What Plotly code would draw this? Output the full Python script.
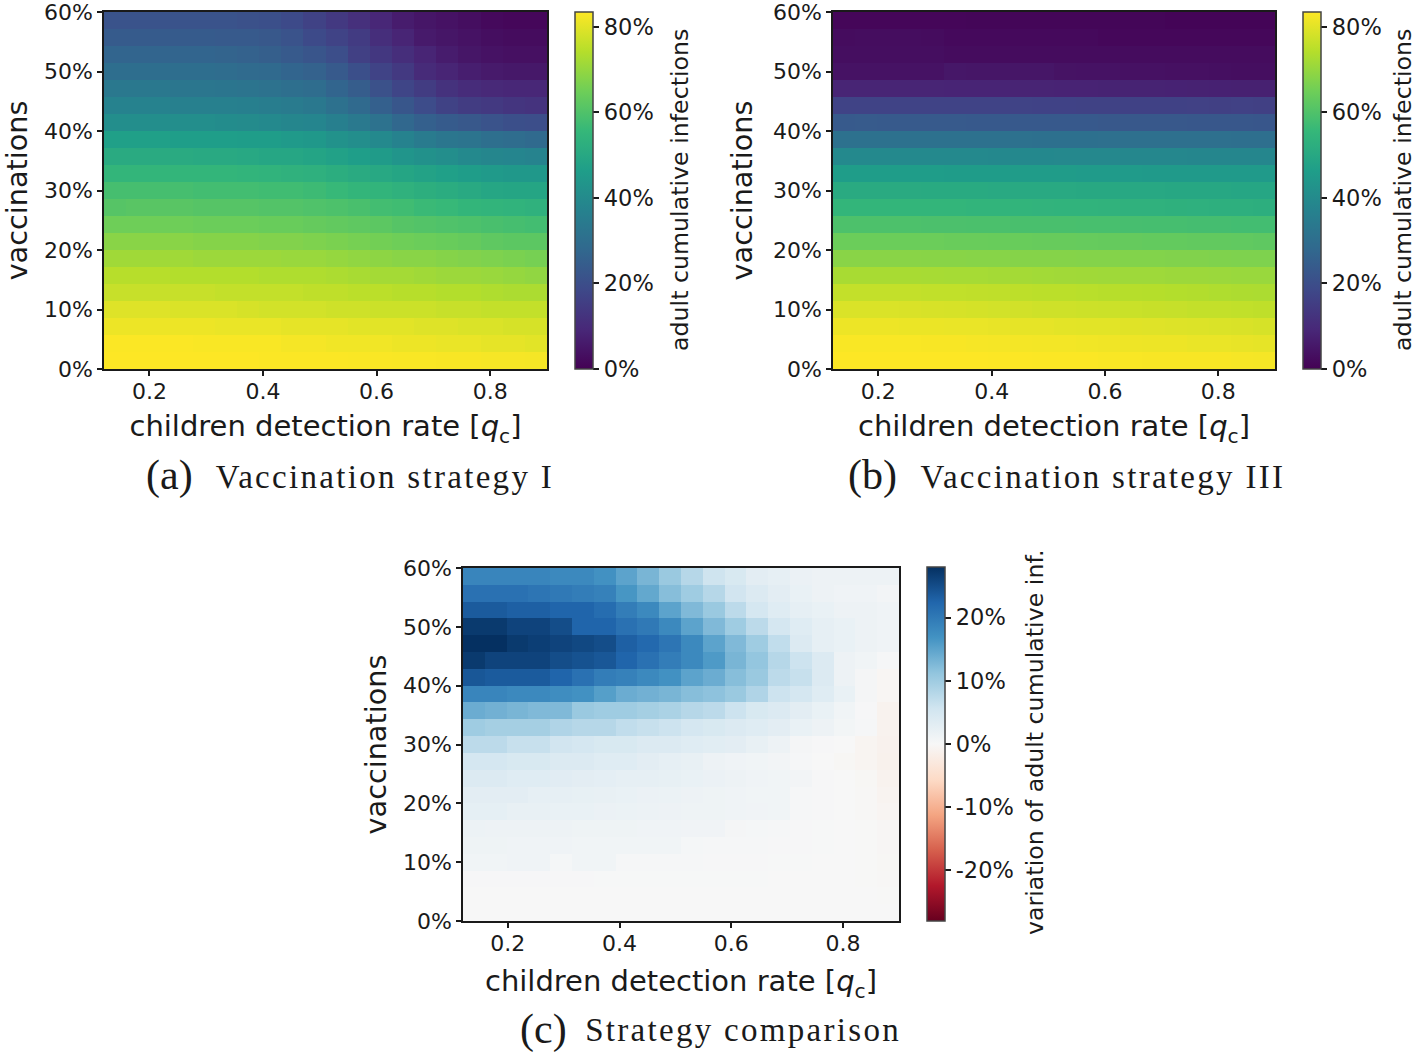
import plotly.graph_objects as go
import plotly.colors as pc

W, H = 1416, 1053

# centres of the cells, detection rate and share of vaccinated people
detection_rate = [0.1395, 0.1785, 0.2175, 0.2565, 0.2955, 0.3345, 0.3735, 0.4125, 0.4515, 0.4905,
                  0.5295, 0.5685, 0.6075, 0.6465, 0.6855, 0.7245, 0.7635, 0.8025, 0.8415, 0.8805]
vaccinations = [1.43, 4.29, 7.14, 10.0, 12.86, 15.71, 18.57, 21.43, 24.29, 27.14, 30.0,
                32.86, 35.71, 38.57, 41.43, 44.29, 47.14, 50.0, 52.86, 55.71, 58.57]

y_ticks = [0, 10, 20, 30, 40, 50, 60]
y_labels = ["0%", "10%", "20%", "30%", "40%", "50%", "60%"]
x_ticks = [0.2, 0.4, 0.6, 0.8]
x_labels = ["0.2", "0.4", "0.6", "0.8"]
cb_ticks = [0, 20, 40, 60, 80]
cb_labels = ["0%", "20%", "40%", "60%", "80%"]
diff_ticks = [-20, -10, 0, 10, 20]
diff_labels = ["-20%", "-10%", "0%", "10%", "20%"]

# rows go from the lowest vaccination share to the highest
strategy_1 = [
    [83.5, 83.5, 83.5, 83.5, 83.5, 83.5, 83.5, 83.3, 83.3, 83.2, 83.2, 83.1, 83.1, 83, 83, 82.8, 82.8, 82.6, 82.6, 82.5],
    [83.2, 83.2, 83.2, 83.2, 83, 83, 83, 83, 82.5, 82.5, 82, 82, 82, 81.5, 81.5, 81, 81, 80.5, 80.5, 80],
    [81.5, 81.5, 81.5, 81.5, 81.5, 81, 81, 81, 80.5, 80.5, 80.5, 80, 80, 80, 79.5, 79.5, 79, 79, 78.5, 78.5],
    [79.5, 79.5, 79.5, 79, 79, 79, 78.5, 78, 78, 78, 77.5, 77.5, 77, 77, 77, 76.5, 76.5, 76, 76, 76],
    [76.5, 76.5, 76.5, 76.5, 76.5, 76, 76, 76, 76, 75.5, 75.5, 75, 75, 74.5, 74.5, 74, 74, 73.5, 73, 73],
    [74.5, 74.5, 74.5, 74, 74, 74, 74, 73.5, 73.5, 73.5, 73, 72.5, 72, 72, 71.5, 71, 71, 70.5, 70, 69.5],
    [71.5, 71.5, 71.5, 71.5, 71, 71, 71, 71, 70.5, 70.5, 70, 69.5, 69, 68.5, 68.5, 68, 67.5, 67, 66.5, 66],
    [68.5, 68.5, 68.5, 68.5, 68, 68, 68, 67.5, 67.5, 67, 66.5, 66, 65.5, 65, 64.5, 64, 63.5, 62.5, 62, 62],
    [65, 65, 65, 65, 64.5, 64.5, 64.5, 64, 64, 63.5, 63, 62.5, 62, 61, 60.5, 60, 59.5, 59, 58.5, 58],
    [61, 61.5, 61.5, 61.5, 61, 61, 61, 60.5, 60.5, 60, 59.5, 59, 58, 57.5, 56.5, 56, 55, 54.5, 54, 53.5],
    [58.5, 58.5, 58.5, 58.5, 58, 58, 58, 57.5, 57.5, 57, 56, 55, 54.5, 53.5, 52.5, 51.5, 50.5, 49.5, 49, 49],
    [55, 55, 55, 55, 55, 55, 54.5, 54, 53.5, 53, 52, 51, 50, 49, 48, 47, 46, 45, 44.5, 44.5],
    [51, 51, 51, 51, 50.5, 50.5, 50, 49.5, 49.5, 48.5, 47.5, 46.5, 45.5, 43.5, 42, 41, 39.5, 38.5, 38, 37.5],
    [47, 47, 47, 46.5, 46.5, 46.5, 46, 46, 45, 44.5, 42.5, 41, 39.5, 37, 34.5, 33, 32, 30.5, 29.5, 28.5],
    [41, 41, 41, 41, 41, 40.5, 40, 39.5, 38.5, 38, 36, 34, 31.5, 28, 25.5, 24, 23, 21.5, 20.5, 20],
    [37, 37, 37, 36.5, 36.5, 36.5, 36, 35.5, 34.5, 33.5, 31, 28.5, 25.5, 22.5, 19.5, 16.5, 15, 14, 13, 12.5],
    [33.5, 33.5, 33.5, 33, 33, 32.5, 32, 31.5, 30.5, 29.5, 27, 24.5, 21, 17.5, 15, 12, 10.5, 9.5, 9, 9],
    [30, 30, 30, 30, 30, 29.5, 29, 28.5, 27, 26, 23.5, 20.5, 17, 14, 10, 8.5, 7, 6, 5.5, 5.5],
    [27, 27, 27, 27, 27, 26.5, 26, 25, 23.5, 22, 20, 16, 13.5, 11, 8.5, 6.5, 5, 4, 3.5, 3.5],
    [24, 24, 24, 24, 24, 23.5, 23.5, 23, 21.5, 19, 17, 14.5, 11, 8.5, 6, 5, 4, 3, 2.5, 2.5],
    [21.5, 21.5, 21.5, 21.5, 21.5, 21.5, 21, 20.5, 19, 16.5, 14, 11.5, 9, 6.5, 5, 4, 3, 2, 1.5, 1.5],
]

strategy_3 = [
    [83.5, 83.5, 83.5, 83.5, 83.5, 83.5, 83.5, 83.4, 83.4, 83.3, 83.2, 83.2, 83, 83, 82.9, 82.9, 82.8, 82.8, 82.6, 82.5],
    [83, 83, 83, 83, 82.8, 82.8, 82.6, 82.5, 82.4, 82.2, 82.2, 82, 81.8, 81.6, 81.5, 81.4, 81, 81, 80.8, 80.5],
    [81.5, 81.5, 81.5, 81.2, 81.2, 81, 81, 80.8, 80.6, 80.5, 80.2, 80, 80, 79.8, 79.6, 79.4, 79.2, 79, 78.8, 78.5],
    [79, 79, 79, 78.8, 78.6, 78.5, 78.2, 78, 77.8, 77.5, 77.5, 77.2, 77, 76.8, 76.6, 76.4, 76, 76, 75.8, 75.5],
    [76, 76, 76, 76, 75.8, 75.8, 75.6, 75.5, 75.2, 75, 75, 74.8, 74.5, 74.4, 74.2, 74, 73.8, 73.5, 73.2, 73],
    [72.5, 72.5, 72.5, 72.5, 72.4, 72.2, 72.2, 72, 72, 71.8, 71.6, 71.5, 71.4, 71.2, 71.2, 71, 71, 70.8, 70.6, 70.5],
    [68.5, 68.5, 68.5, 68.5, 68.4, 68.4, 68.2, 68.2, 68, 68, 68, 67.8, 67.8, 67.6, 67.6, 67.4, 67.4, 67.2, 67.1, 67],
    [64.5, 64.5, 64.5, 64.4, 64.4, 64.2, 64.2, 64, 64, 63.8, 63.8, 63.6, 63.5, 63.4, 63.2, 63.2, 63, 63, 62.8, 62.5],
    [59.5, 59.5, 59.5, 59.5, 59.4, 59.4, 59.2, 59.2, 59, 59, 59, 58.8, 58.8, 58.6, 58.5, 58.4, 58.2, 58.2, 58, 58],
    [55, 55, 55, 55, 54.8, 54.8, 54.6, 54.5, 54.4, 54.2, 54, 54, 53.8, 53.6, 53.5, 53.2, 53, 52.8, 52.6, 52.5],
    [51, 51, 51, 51, 50.8, 50.8, 50.8, 50.6, 50.6, 50.5, 50.4, 50.2, 50.2, 50, 50, 49.8, 49.8, 49.6, 49.5, 49.5],
    [46, 46, 46, 46, 46, 45.8, 45.8, 45.8, 45.6, 45.6, 45.6, 45.4, 45.4, 45.4, 45.2, 45.2, 45.2, 45, 45, 45],
    [39.5, 39.5, 39.5, 39.5, 39.4, 39.4, 39.4, 39.2, 39.2, 39.2, 39, 39, 39, 38.8, 38.8, 38.8, 38.6, 38.6, 38.5, 38.5],
    [31, 31, 31, 31, 31, 31, 30.9, 30.9, 30.9, 30.8, 30.8, 30.8, 30.7, 30.7, 30.7, 30.6, 30.6, 30.6, 30.5, 30.5],
    [23.5, 23.8, 23.6, 23.5, 23.5, 23.6, 23.4, 23.4, 23.4, 23.3, 23.2, 23.2, 23, 23, 23, 22.9, 22.8, 22.7, 22.6, 22.5],
    [17, 17, 17, 17, 17, 16.9, 16.9, 16.8, 16.8, 16.7, 16.7, 16.6, 16.6, 16.4, 16.4, 16.4, 16.2, 16, 16.2, 16],
    [8.5, 8.5, 8.5, 8.5, 8.5, 8.4, 8.4, 8.4, 8.3, 8.3, 8.2, 8.2, 8, 8, 8, 7.9, 7.8, 7.7, 7.6, 7.5],
    [4, 4, 4, 4, 4, 5.2, 5, 5, 5, 5, 4.2, 4, 4, 3.8, 3.8, 3.6, 3.5, 3.4, 3.2, 3],
    [3, 3, 3, 3, 3, 2.6, 2.6, 2.6, 2.6, 2.6, 2.6, 2.6, 2.6, 2.6, 2.6, 2.6, 2.6, 2.5, 2.5, 2.5],
    [2.6, 2.8, 2.8, 2.8, 2.6, 2, 2, 2, 2, 2, 2, 2, 1.5, 1.5, 1.5, 1.5, 1.5, 1.5, 1.5, 1.5],
    [1.2, 1.2, 1.2, 1.2, 1.2, 1.2, 1.1, 1.1, 1.1, 1.1, 1.1, 1.1, 1.1, 1.1, 1.1, 0.8, 0.8, 0.8, 0.8, 0.8],
]

comparison = [
    [0, 0, 0, 0, 0, 0, 0, 0, 0, 0, 0, 0, 0, 0, 0, 0, 0, 0, 0, 0],
    [0, 0, 0, 0, 0, 0, 0, 0, 0, 0, 0, 0, 0, 0, 0, 0, 0, 0, 0, -0.1],
    [0.2, 0.2, 0.2, 0.2, 0.2, 0.2, 0.1, 0.1, 0.1, 0.1, 0.1, 0.1, 0.1, 0.1, 0, 0, 0, 0, -0.1, -0.2],
    [1, 1, 1.2, 1.2, 0.4, 1, 1, 0.3, 0.3, 0.3, 0.3, 0.2, 0.2, 0.2, 0.1, 0.1, 0, 0, -0.1, -0.3],
    [1.3, 1.3, 1.2, 1.2, 1.2, 1, 1, 1, 1, 1, 0.4, 0.3, 0.3, 0.3, 0.2, 0.2, 0.1, 0, -0.1, -0.4],
    [1.6, 1.5, 1.5, 1.5, 1.5, 1.3, 1.3, 1.3, 1.2, 1.2, 1.1, 1.1, 0.5, 0.4, 0.3, 0.2, 0.1, 0, -0.1, -0.4],
    [2.6, 2.6, 2.2, 2.2, 2, 2, 1.8, 1.7, 1.6, 1.5, 1.4, 1.3, 1.2, 1.1, 1, 0.3, 0.2, 0, -0.2, -0.6],
    [3, 3, 3, 2.5, 2.5, 2.3, 2.2, 2, 1.8, 1.7, 1.5, 1.3, 1.2, 1, 1, 0.3, 0.2, 0, -0.2, -0.8],
    [4, 4, 3.5, 3.5, 3.3, 3, 2.8, 2.5, 2.5, 2.3, 2, 1.8, 1.5, 1.2, 1, 0.8, 0.2, 0, -0.3, -1],
    [5, 5, 4.5, 4.5, 4, 4, 3.5, 3.5, 3, 2.5, 2.2, 1.5, 1.2, 1, 0.8, 0.3, 0, -0.3, -0.7, -1.3],
    [7.5, 7.5, 6.5, 6.5, 5.5, 5, 4.5, 4.5, 4, 4, 3.5, 3.2, 3, 2.2, 1.5, 0.5, 0.2, 0, -0.7, -1.2],
    [10, 9.5, 9.5, 9.5, 8.5, 8, 8, 7, 6.5, 6, 5, 4.5, 4, 3.5, 3, 2, 1.5, 0.7, 0.3, -1],
    [14, 13.5, 13, 12.5, 12.5, 10.5, 10, 10, 9.5, 9, 8, 7.5, 6, 4.5, 4, 3, 2, 1, 0.2, -1],
    [18.5, 18.5, 18, 18, 17.5, 17, 15.5, 14, 13.5, 13, 12, 11.5, 10.5, 8.5, 6, 5, 3.5, 2, 0.5, -0.5],
    [24, 23.5, 23.5, 23.5, 22.5, 21, 19.5, 19, 18, 17, 15, 14, 12, 10.5, 7.5, 6.5, 4, 1.5, 0.5, -0.5],
    [27, 26, 26, 26, 25, 24.5, 24, 22.5, 21, 19.5, 18, 16, 13, 11, 8, 6, 4, 1.5, 1, 0.3],
    [28, 28, 27, 26.5, 26, 25.5, 25, 23, 22, 20.5, 18, 15, 12.5, 10, 7, 4, 2.5, 2, 1.5, 1.2],
    [27, 27, 26, 26, 25, 22.5, 22.5, 21, 20, 18, 15, 12.5, 10, 7.5, 5, 3.5, 2.5, 2, 1.5, 1.2],
    [23.5, 23.5, 23, 23, 22.5, 22.5, 21.5, 19.5, 18, 15, 12.5, 10.5, 7.5, 5, 3.5, 2.5, 2, 1.5, 1.5, 1.2],
    [21, 21, 21, 20.5, 20, 19.5, 19, 16.5, 14.5, 12, 10, 8, 5.5, 4, 3, 2, 1.5, 1.2, 1.2, 0.8],
    [18.5, 18.5, 18.5, 18.5, 18, 18, 17, 15, 13, 10.5, 8, 5.8, 4.5, 3, 2.5, 1.8, 1.5, 1.5, 1.5, 1.5],
]

INK = "#1a1a1a"


# pixel box of a panel -> paper fractions
def px_x(x):
    return x / W


def px_y(y):
    return 1 - y / H


def colorbar(x, top, bottom, ticks, labels):
    return dict(
        x=px_x(x), xanchor="left", xref="paper",
        y=px_y(bottom), yanchor="bottom", yref="paper",
        len=(bottom - top) / H, lenmode="fraction",
        thickness=18, thicknessmode="pixels", xpad=0, ypad=0,
        outlinecolor="#444444", outlinewidth=1.5,
        ticks="outside", ticklen=6, tickwidth=1.5, tickcolor=INK,
        tickvals=ticks, ticktext=labels,
        tickfont=dict(size=22.5, color=INK),
    )


fig = go.Figure()
fig.add_trace(go.Heatmap(x=detection_rate, y=vaccinations, z=strategy_1, zmin=0, zmax=83.5,
                         colorscale=pc.sequential.Viridis, xaxis="x", yaxis="y",
                         colorbar=colorbar(575, 12, 369, cb_ticks, cb_labels)))
fig.add_trace(go.Heatmap(x=detection_rate, y=vaccinations, z=strategy_3, zmin=0, zmax=83.5,
                         colorscale=pc.sequential.Viridis, xaxis="x2", yaxis="y2",
                         colorbar=colorbar(1303, 12, 369, cb_ticks, cb_labels)))
fig.add_trace(go.Heatmap(x=detection_rate, y=vaccinations, z=comparison, zmin=-28, zmax=28,
                         colorscale=pc.diverging.RdBu, xaxis="x3", yaxis="y3",
                         colorbar=colorbar(927, 567, 921, diff_ticks, diff_labels)))


def x_axis(left, right, anchor, standoff):
    return dict(
        domain=[px_x(left), px_x(right)], anchor=anchor, range=[0.12, 0.90],
        tickvals=x_ticks, ticktext=x_labels, ticks="outside", ticklen=5, tickwidth=1.5,
        ticklabelstandoff=-3, ticklabeloverflow="allow",
        tickcolor=INK, tickfont=dict(size=22, color=INK),
        showline=True, linecolor=INK, linewidth=1.5, mirror=True, showgrid=False, zeroline=False,
        title=dict(text="children detection rate [<i>q</i><sub>c</sub>]",
                   font=dict(size=29, color=INK), standoff=standoff),
    )


def y_axis(top, bottom, anchor, standoff):
    return dict(
        domain=[px_y(bottom), px_y(top)], anchor=anchor, range=[0, 60],
        tickvals=y_ticks, ticktext=y_labels, ticks="outside", ticklen=5, tickwidth=1.5,
        ticklabeloverflow="allow",
        tickcolor=INK, tickfont=dict(size=22, color=INK),
        showline=True, linecolor=INK, linewidth=1.5, mirror=True, showgrid=False, zeroline=False,
        title=dict(text="vaccinations", font=dict(size=28.7, color=INK), standoff=standoff),
    )


fig.update_layout(
    width=W, height=H, margin=dict(l=0, r=0, t=0, b=0, autoexpand=False),
    paper_bgcolor="white", plot_bgcolor="white",
    font=dict(family="DejaVu Sans", color=INK),
    xaxis=x_axis(104, 547, "y", 13), yaxis=y_axis(12, 369, "x", 8),
    xaxis2=x_axis(833, 1275, "y2", 13), yaxis2=y_axis(12, 369, "x2", 12),
    xaxis3=x_axis(463, 899, "y3", 16), yaxis3=y_axis(568, 921, "x3", 8),
)

# colorbar titles, set as annotations to sit where the picture has them
bar_titles = [
    (680, 190, "adult cumulative infections"),
    (1403, 190, "adult cumulative infections"),
    (1035, 742, "variation of adult cumulative inf."),
]
for x_title, y_title, text in bar_titles:
    fig.add_annotation(x=px_x(x_title), y=px_y(y_title), xref="paper", yref="paper", xanchor="center", yanchor="middle",
                       text=text, textangle=-90, showarrow=False, font=dict(size=23.7, color=INK))

# captions under the panels
captions = [
    (144, 476, "(a)", 384.5, "Vaccination strategy I"),
    (846, 476, "(b)", 1103, "Vaccination strategy III"),
    (518, 1029, "(c)", 743, "Strategy comparison"),
]
for x_tag, y_cap, tag, x_text, text in captions:
    fig.add_annotation(x=px_x(x_tag), y=px_y(y_cap), xref="paper", yref="paper", xanchor="left", yanchor="middle",
                       text=tag, showarrow=False, font=dict(family="Liberation Serif", size=42, color=INK))
    fig.add_annotation(x=px_x(x_text), y=px_y(y_cap + 1), xref="paper", yref="paper", xanchor="center", yanchor="middle",
                       text=text, showarrow=False, font=dict(family="Liberation Serif", size=33, color=INK))

# the captions in the picture are set wider than Liberation Serif
spacing = """
document.body.style.margin = '0';
setTimeout(function () {
  document.querySelectorAll('.annotation-text').forEach(function (t) {
    var s = t.textContent;
    if (s.indexOf('Vaccination') === 0 || s.indexOf('Strategy') === 0) t.style.letterSpacing = '2.3px';
  });
}, 100);
"""
fig.write_html("out.html", post_script=spacing, config={"displayModeBar": False})
